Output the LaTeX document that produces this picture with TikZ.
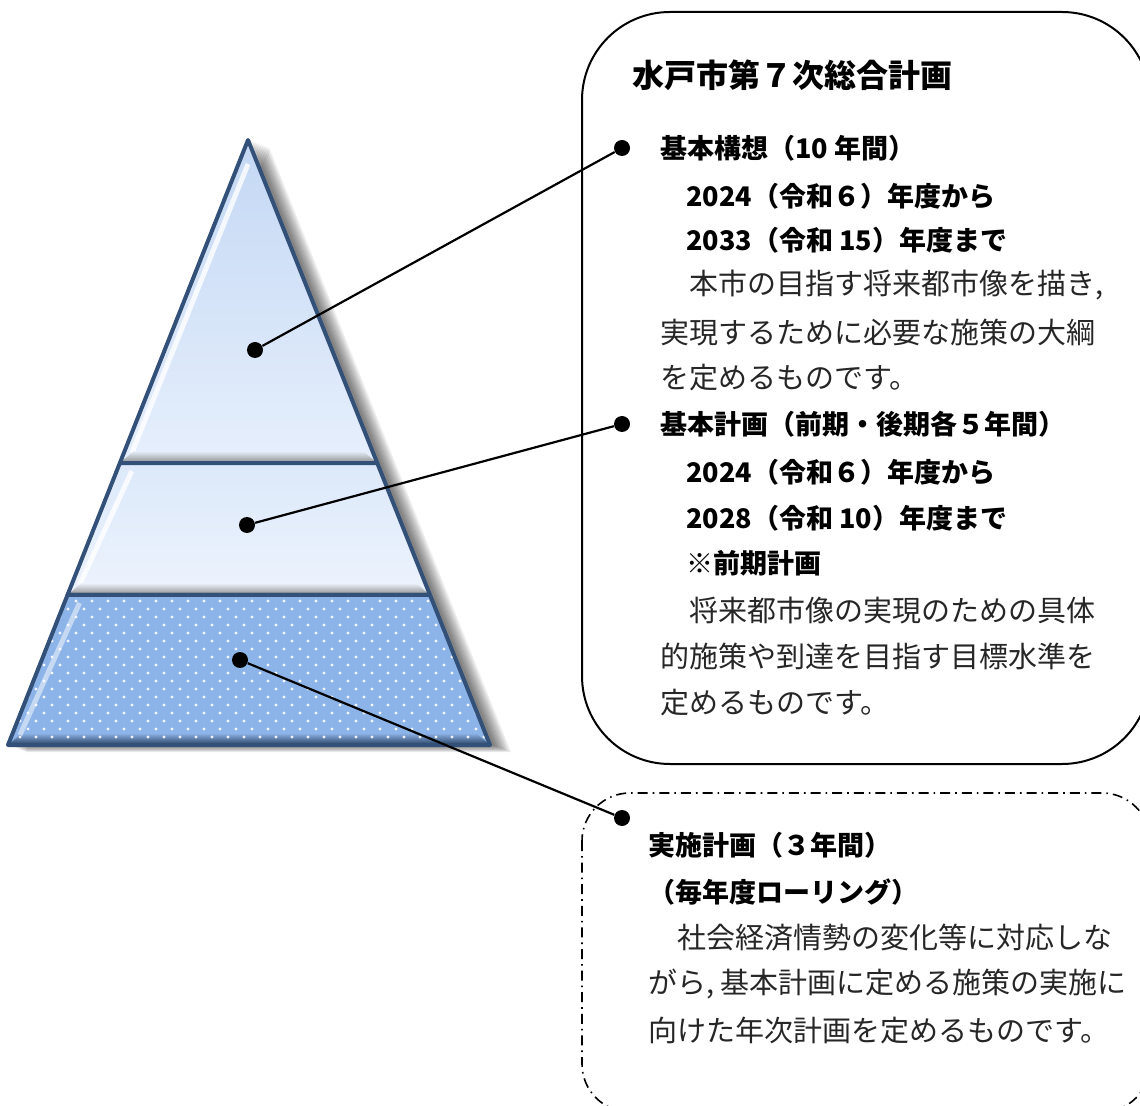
\documentclass[tikz,border=0pt]{standalone}
\usepackage{fontspec}
\setmainfont{Noto Sans CJK JP}
\usetikzlibrary{calc}

\definecolor{pyrline}{RGB}{50,80,120}
\definecolor{topA}{RGB}{196,216,244}
\definecolor{topB}{RGB}{230,239,252}
\definecolor{midA}{RGB}{220,233,250}
\definecolor{midB}{RGB}{237,243,253}
\definecolor{lowfill}{RGB}{141,180,232}

\begin{document}
\begin{tikzpicture}[x=0.5pt,y=-0.5pt,
  dot/.style={circle,fill=black,inner sep=0pt,minimum size=8pt},
  leader/.style={line width=1.1pt},
  title/.style={anchor=west,inner sep=0pt,font=\fontsize{16}{19}\selectfont\bfseries},
  head/.style={anchor=west,inner sep=0pt,font=\fontsize{13.5}{16}\selectfont\bfseries},
  body/.style={anchor=west,inner sep=0pt,text=black!85,font=\fontsize{14.5}{17}\selectfont},
  layer/.style={draw=pyrline,line width=2pt,line join=round},
  hilite/.style={white,opacity=0.8,line width=2.5pt}]
\useasboundingbox (0,0) rectangle (1140,1106);
\clip (0,0) rectangle (1140,1106);

% pyramid corners
\coordinate (apex) at (248,140);
\coordinate (bl) at (8,745);
\coordinate (br) at (490,745);
\coordinate (l1) at ($(apex)!0.534!(bl)$);
\coordinate (r1) at ($(apex)!0.534!(br)$);
\coordinate (l2) at ($(apex)!0.752!(bl)$);
\coordinate (r2) at ($(apex)!0.752!(br)$);

% soft shadow
\foreach \d in {2,4,...,18}
  \fill[black,opacity=0.07] ([shift={(\d+3,\d*0.4)}]apex) -- ([shift={(\d+3,\d*0.4)}]br)
    -- ([shift={(\d,\d*0.4)}]bl) -- cycle;

% top layer
\fill[top color=topA,bottom color=topB] (apex) -- (r1) -- (l1) -- cycle;
\draw[hilite] ($(apex)+(0,24)$) -- ($(l1)+(12,-10)$);
\shade[top color=topB,bottom color=black!45] ($(l1)+(14,-12)$) -- ($(r1)+(-14,-12)$) -- (r1) -- (l1) -- cycle;
\draw[layer] (apex) -- (r1) -- (l1) -- cycle;

% middle layer
\fill[top color=midA,bottom color=midB] (l1) -- (r1) -- (r2) -- (l2) -- cycle;
\draw[hilite] ($(l1)+(12,8)$) -- ($(l2)+(12,-10)$);
\shade[top color=midB,bottom color=black!45] ($(l2)+(14,-12)$) -- ($(r2)+(-14,-12)$) -- (r2) -- (l2) -- cycle;
\draw[layer] (l1) -- (r1) -- (r2) -- (l2) -- cycle;

% bottom layer
\fill[lowfill] (l2) -- (r2) -- (br) -- (bl) -- cycle;
\shade[top color=lowfill,bottom color=pyrline!80!black] ($(bl)+(14,-12)$) -- ($(br)+(-14,-12)$) -- (br) -- (bl) -- cycle;
\begin{scope}
  \clip (l2) -- (r2) -- (br) -- (bl) -- cycle;
  \foreach \r in {0,...,18}
    \foreach \c in {0,...,30}
      \fill[white,opacity=0.9] ({12+\c*16+mod(\r,2)*8},{601+\r*8}) circle (0.8pt);
\end{scope}
\draw[hilite,opacity=0.5] ($(l2)+(12,8)$) -- ($(bl)+(12,-10)$);
\draw[layer] (l2) -- (r2) -- (br) -- (bl) -- cycle;

% frames
\draw[line width=1pt,rounded corners=44pt] (582,12) rectangle (1150,764);
\draw[line width=0.8pt,rounded corners=24pt,dash pattern=on 5pt off 2.5pt on 0.8pt off 2.5pt]
  (582,793) rectangle (1150,1112);

% dots and leaders
\node[dot] (p1) at (255,350) {};
\node[dot] (p2) at (247,525) {};
\node[dot] (p3) at (240,660) {};
\node[dot] (q1) at (622,148) {};
\node[dot] (q2) at (622,424) {};
\node[dot] (q3) at (622,818) {};
\draw[leader] (p1) -- (q1);
\draw[leader] (p2) -- (q2);
\draw[leader] (p3) -- (q3);

% general plan
\node[title] (plan) at (632,75) {水戸市第７次総合計画};
\node[head] (vision) at (660,148) {基本構想（10 年間）};
\node[head] (visfrom) at (686,196) {2024（令和６）年度から};
\node[head] (visto) at (686,240) {2033（令和 15）年度まで};
\node[body] (vis1) at (660,285) {　本市の目指す将来都市像を描き,};
\node[body] (vis2) at (660,333) {実現するために必要な施策の大綱};
\node[body] (vis3) at (660,378) {を定めるものです。};
\node[head] (basic) at (660,424) {基本計画（前期・後期各５年間）};
\node[head] (basfrom) at (686,472) {2024（令和６）年度から};
\node[head] (basto) at (686,518) {2028（令和 10）年度まで};
\node[head] (basnote) at (686,563) {※前期計画};
\node[body] (bas1) at (660,610) {　将来都市像の実現のための具体};
\node[body] (bas2) at (660,656) {的施策や到達を目指す目標水準を};
\node[body] (bas3) at (660,703) {定めるものです。};

% action plan
\node[head] (action) at (648,845) {実施計画（３年間）};
\node[head] (rolling) at (648,892) {（毎年度ローリング）};
\node[body] (act1) at (648,938) {　社会経済情勢の変化等に対応しな};
\node[body] (act2) at (648,984) {がら, 基本計画に定める施策の実施に};
\node[body] (act3) at (648,1030) {向けた年次計画を定めるものです。};
\end{tikzpicture}
\end{document}
